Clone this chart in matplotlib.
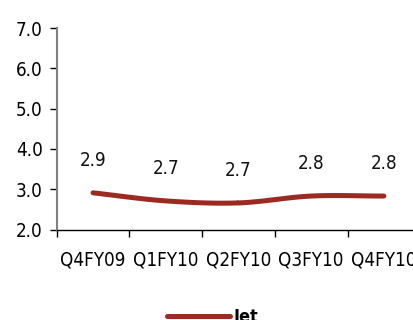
import numpy as np
import matplotlib
matplotlib.use("Agg")
import matplotlib.pyplot as plt
from matplotlib.lines import Line2D

categories = ["Q4FY09", "Q1FY10", "Q2FY10", "Q3FY10", "Q4FY10"]
jet = [2.91, 2.71, 2.66, 2.83, 2.83]
labels = ["2.9", "2.7", "2.7", "2.8", "2.8"]
yticks = [2.0, 3.0, 4.0, 5.0, 6.0, 7.0]

plt.rcParams['font.family'] = ['DejaVu Sans']
plt.rcParams['font.stretch'] = 'condensed'

W, H = 414, 320
fig = plt.figure(figsize=(W / 100, H / 100), dpi=100)
ax = fig.add_axes([56.7 / W, 90.5 / H, 363.5 / W, 201.5 / H])

color = "#9B2A22"
fs = 13.5

x = np.arange(len(jet), dtype=float)
y = np.array(jet, dtype=float)
px = np.concatenate([[2 * x[0] - x[1]], x, [2 * x[-1] - x[-2]]])
py = np.concatenate([[2 * y[0] - y[1]], y, [2 * y[-1] - y[-2]]])
xs, ys = [], []
for i in range(1, len(px) - 2):
    t = np.linspace(0, 1, 30)
    for arr, out in ((px, xs), (py, ys)):
        p0, p1, p2, p3 = arr[i - 1], arr[i], arr[i + 1], arr[i + 2]
        out.extend(0.5 * ((2 * p1) + (-p0 + p2) * t + (2 * p0 - 5 * p1 + 4 * p2 - p3) * t ** 2
                          + (-p0 + 3 * p1 - 3 * p2 + p3) * t ** 3))
ax.plot(xs, ys, color=color, lw=3.6, solid_capstyle='round')

for xi, yi, lab in zip(x, y, labels):
    ax.annotate(lab, (xi, yi), xytext=(0, 23.5), textcoords='offset points',
                ha='center', va='center', fontsize=fs, color='#111111')

ax.set_xlim(-0.5, len(categories) - 0.5)
ax.set_ylim(2.0, 7.0)
ax.set_yticks(yticks)
ax.set_yticklabels([f"{v:.1f}" for v in yticks], fontsize=fs)
ax.set_xticks(x)
ax.set_xticklabels(categories, fontsize=fs)
ax.set_xticks(np.arange(-0.5, len(categories), 1.0), minor=True)
ax.tick_params(axis='x', which='major', length=0, pad=15)
ax.tick_params(axis='x', which='minor', length=5, width=1, direction='out', color='black')
ax.tick_params(axis='y', length=5, width=1, direction='out', color='black', pad=5)

for s in ('top', 'right'):
    ax.spines[s].set_visible(False)
ax.spines['left'].set_color('#808080')
ax.spines['left'].set_linewidth(1.5)
ax.spines['bottom'].set_color('black')
ax.spines['bottom'].set_linewidth(1.0)

handle = Line2D([], [], color=color, lw=3.6, solid_capstyle='round')
fig.legend([handle], ["Jet"], loc='center', bbox_to_anchor=(213 / W, 1 - 317 / H),
           frameon=False, handlelength=3.5, handletextpad=0.2,
           prop={'weight': 'bold', 'size': 13})

fig.savefig("out.png", dpi=100)
